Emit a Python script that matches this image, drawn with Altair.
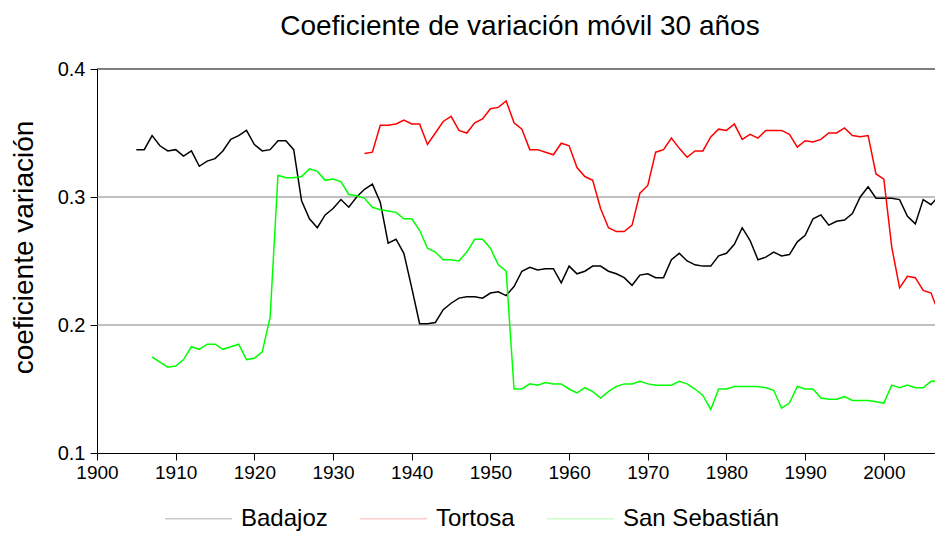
import altair as alt
import pandas as pd

# ---- data ----
series_names = ["Badajoz", "Tortosa", "San Sebastián"]
series_colors = ["#000000", "#ff0000", "#00ff00"]

badajoz_start = 1905
badajoz = [
    0.337, 0.337, 0.348, 0.340, 0.336,
    0.337, 0.332, 0.336, 0.324, 0.328,
    0.330, 0.336, 0.345, 0.348, 0.352,
    0.341, 0.336, 0.337, 0.344, 0.344,
    0.337, 0.297, 0.283, 0.276, 0.286,
    0.291, 0.298, 0.292, 0.300, 0.306,
    0.310, 0.296, 0.264, 0.267, 0.256,
    0.229, 0.201, 0.201, 0.202, 0.212,
    0.217, 0.221, 0.222, 0.222, 0.221,
    0.225, 0.226, 0.223, 0.230, 0.242,
    0.245, 0.243, 0.244, 0.244, 0.233,
    0.246, 0.240, 0.242, 0.246, 0.246,
    0.242, 0.240, 0.237, 0.231, 0.239,
    0.240, 0.237, 0.237, 0.251, 0.256,
    0.250, 0.247, 0.246, 0.246, 0.254,
    0.256, 0.263, 0.276, 0.266, 0.251,
    0.253, 0.257, 0.254, 0.255, 0.265,
    0.270, 0.283, 0.286, 0.278, 0.281,
    0.282, 0.287, 0.300, 0.308, 0.299,
    0.299, 0.299, 0.298, 0.285, 0.279,
    0.298, 0.294, 0.301, 0.300,
]

tortosa_start = 1934
tortosa = [
    0.334, 0.335, 0.356, 0.356, 0.357,
    0.360, 0.357, 0.357, 0.341, 0.350,
    0.359, 0.363, 0.352, 0.350, 0.358,
    0.361, 0.369, 0.370, 0.375, 0.358,
    0.353, 0.337, 0.337, 0.335, 0.333,
    0.342, 0.340, 0.323, 0.316, 0.313,
    0.291, 0.276, 0.273, 0.273, 0.278,
    0.303, 0.309, 0.335, 0.337, 0.346,
    0.338, 0.331, 0.336, 0.336, 0.347,
    0.353, 0.352, 0.357, 0.345, 0.349,
    0.346, 0.352, 0.352, 0.352, 0.349,
    0.339, 0.344, 0.343, 0.345, 0.350,
    0.350, 0.354, 0.348, 0.347, 0.348,
    0.318, 0.314, 0.261, 0.229, 0.238,
    0.237, 0.227, 0.225, 0.209, 0.186,
]

sansebastian_start = 1907
sansebastian = [
    0.175, 0.171, 0.167, 0.168, 0.173,
    0.183, 0.181, 0.185, 0.185, 0.181,
    0.183, 0.185, 0.173, 0.174, 0.179,
    0.206, 0.317, 0.315, 0.315, 0.316,
    0.322, 0.320, 0.313, 0.314, 0.312,
    0.302, 0.301, 0.299, 0.292, 0.290,
    0.289, 0.288, 0.283, 0.283, 0.274,
    0.260, 0.257, 0.251, 0.251, 0.250,
    0.257, 0.267, 0.267, 0.260, 0.247,
    0.242, 0.150, 0.150, 0.154, 0.153,
    0.155, 0.154, 0.154, 0.150, 0.147,
    0.151, 0.148, 0.143, 0.148, 0.152,
    0.154, 0.154, 0.156, 0.154, 0.153,
    0.153, 0.153, 0.156, 0.154, 0.150,
    0.145, 0.134, 0.150, 0.150, 0.152,
    0.152, 0.152, 0.152, 0.151, 0.149,
    0.135, 0.139, 0.152, 0.150, 0.150,
    0.143, 0.142, 0.142, 0.144, 0.141,
    0.141, 0.141, 0.140, 0.139, 0.153,
    0.151, 0.153, 0.151, 0.151, 0.156,
    0.156, 0.159,
]

x_ticks = list(range(1900, 2001, 10))
y_ticks = [0.1, 0.2, 0.3, 0.4]
grid_values = [0.2, 0.3]
frame_top = [0.4]

rows = []
for name, start, vals in [
    ("Badajoz", badajoz_start, badajoz),
    ("Tortosa", tortosa_start, tortosa),
    ("San Sebastián", sansebastian_start, sansebastian),
]:
    for i, v in enumerate(vals):
        rows.append({"year": start + i, "value": v, "series": name})
df = pd.DataFrame(rows)
grid_df = pd.DataFrame({"g": grid_values})
top_df = pd.DataFrame({"g": frame_top})

FONT = "Liberation Sans"

x_scale = alt.Scale(domain=[1900, 2006.5], nice=False, zero=False)
y_scale = alt.Scale(domain=[0.1, 0.4], nice=False, zero=False)

grid = alt.Chart(grid_df).mark_rule(color="#808080", strokeWidth=1).encode(
    y=alt.Y("g:Q", scale=y_scale)
)
top_line = alt.Chart(top_df).mark_rule(color="black", strokeWidth=1).encode(
    y=alt.Y("g:Q", scale=y_scale)
)

lines = alt.Chart(df).mark_line(strokeWidth=1.5, clip=True).encode(
    x=alt.X(
        "year:Q",
        scale=x_scale,
        axis=alt.Axis(
            values=x_ticks, format="d", title=None, grid=False,
            tickSize=7, labelPadding=3, labelFontSize=19, labelFont=FONT,
            labelColor="black", domainColor="black", tickColor="black",
            labelFlush=False, labelOverlap=False,
        ),
    ),
    y=alt.Y(
        "value:Q",
        scale=y_scale,
        axis=alt.Axis(
            values=y_ticks, format=".1f", grid=False,
            title="coeficiente variación",
            tickSize=7, labelPadding=5, labelFontSize=20, labelFont=FONT,
            labelColor="black", domainColor="black", tickColor="black",
            titleFont=FONT, titleFontSize=28, titleFontWeight="normal",
            titleColor="black", titleAngle=270, titleX=-65, titleY=178,
            titleAlign="center", titleBaseline="alphabetic",
            labelFlush=False,
        ),
    ),
    color=alt.Color(
        "series:N",
        sort=series_names,
        scale=alt.Scale(domain=series_names, range=series_colors),
        legend=alt.Legend(
            title=None, orient="none", legendX=67, legendY=415,
            direction="horizontal", columns=3,
            symbolType="stroke", symbolSize=4500, symbolStrokeWidth=1.5,
            symbolOpacity=0.2, labelFontSize=24, labelFont=FONT,
            labelColor="black", labelOffset=8, columnPadding=28, padding=0,
        ),
    ),
)

chart = (
    alt.layer(grid, top_line, lines)
    .properties(
        width=838,
        height=384,
        padding={"left": 89, "top": 61, "right": 0, "bottom": 81},
        autosize=alt.AutoSizeParams(type="none"),
        background="white",
        title=alt.TitleParams(
            "Coeficiente de variación móvil 30 años",
            font=FONT, fontSize=28, fontWeight="normal", color="black",
            anchor="middle", baseline="alphabetic", offset=-4, dx=4,
        ),
    )
    .configure_view(stroke=None)
)

chart.save("out.html", embed_options={"renderer": "svg", "actions": False})
